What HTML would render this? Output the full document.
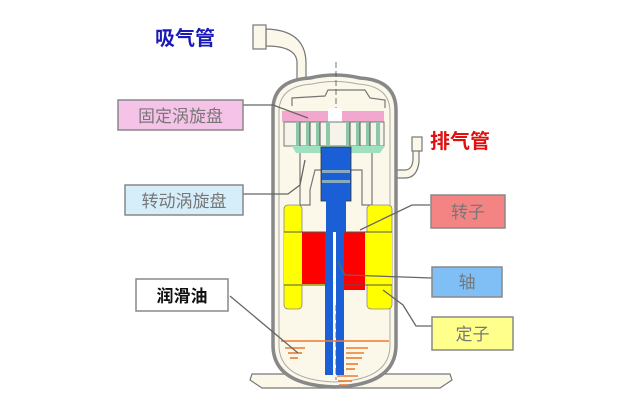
<!DOCTYPE html>
<html><head><meta charset="utf-8"><style>
body{margin:0;background:#fff;width:644px;height:408px;overflow:hidden}
svg{display:block}
text{font-family:"Liberation Sans","Noto Sans CJK SC",sans-serif}
</style></head><body>
<svg width="644" height="408" viewBox="0 0 644 408" xmlns="http://www.w3.org/2000/svg">
<!-- base plate -->
<path d="M252 374 L450 374 L452 380 L440 388 L262 388 L250 380 Z" fill="#fbf8ea" stroke="#777" stroke-width="1.2"/>
<!-- suction pipe -->
<path d="M266 29 Q305 30 306 62 L306 82 L297 82 L297 62 Q296 46 266 46 Z" fill="#fbf8ea" stroke="#777" stroke-width="1.2"/>
<rect x="253" y="25" width="13" height="24" fill="#fbf8ea" stroke="#777" stroke-width="1.2"/>
<!-- discharge pipe -->
<path d="M396 170 L405 170 Q412 170 413 160 L413 150 L419 150 L419 162 Q417 178 405 178 L396 178 Z" fill="#fbf8ea" stroke="#777" stroke-width="1.2"/>
<rect x="412" y="137" width="10" height="14" fill="#fbf8ea" stroke="#777" stroke-width="1.2"/>
<!-- shell -->
<path d="M273 110 Q273 80 310 78 Q335 72 360 78 Q396 80 396 110 L396 345 Q396 385 335 387 Q273 385 273 345 Z" fill="#fbf8ea" stroke="#888" stroke-width="3.5"/>
<path d="M279 112 Q279 86 312 84 Q335 79 358 84 Q390 86 390 112 L390 345 Q390 380 335 382 Q279 380 279 345 Z" fill="none" stroke="#aaa" stroke-width="1"/>
<!-- top parts -->
<path d="M292 106 L292 98 L325 96 L328 90 L365 90 L370 98 L385 100 L385 108" fill="none" stroke="#777" stroke-width="1.2"/>
<line x1="336" y1="62" x2="336" y2="380" stroke="#555" stroke-width="0.8" stroke-dasharray="6 3"/>
<!-- fixed scroll pink -->
<path d="M282 111 L384 111 L384 122 L282 122 Z" fill="#f2a7cf"/>
<rect x="328" y="108" width="14" height="14" fill="#fff"/>
<!-- fins -->
<rect x="284" y="122" width="100" height="24" fill="#f6f3ea" stroke="#777" stroke-width="1"/>
<g fill="#8cc7a8"><rect x="296" y="122" width="4" height="24"/><rect x="306" y="122" width="4" height="24"/><rect x="316" y="122" width="4" height="24"/><rect x="326" y="122" width="4" height="24"/><rect x="346" y="122" width="4" height="24"/><rect x="356" y="122" width="4" height="24"/><rect x="366" y="122" width="4" height="24"/><rect x="376" y="122" width="4" height="24"/></g>
<g stroke="#555" stroke-width="1"><line x1="300" y1="122" x2="300" y2="146"/><line x1="310" y1="122" x2="310" y2="146"/><line x1="320" y1="122" x2="320" y2="146"/><line x1="350" y1="122" x2="350" y2="146"/><line x1="360" y1="122" x2="360" y2="146"/><line x1="370" y1="122" x2="370" y2="146"/></g>
<!-- green plate -->
<path d="M292 146 L385 146 L380 153 L296 153 Z" fill="#9ee0c0"/>
<!-- frame -->
<path d="M300 153 L300 205 L310 205 L310 190 L315 170 L362 170 L362 205 L372 205 L372 153" fill="none" stroke="#777" stroke-width="1.2"/>
<!-- shaft upper -->
<rect x="321" y="147" width="30" height="54" fill="#1a5fd6" stroke="#333" stroke-width="0.8"/>
<rect x="322" y="170" width="28" height="3" fill="#8ab"/><rect x="322" y="180" width="28" height="3" fill="#8ab"/>
<rect x="326" y="200" width="20" height="32" fill="#1a5fd6"/>
<!-- stators yellow -->
<rect x="284" y="205" width="18" height="104" rx="4" fill="#ffff00" stroke="#888" stroke-width="0.8"/>
<rect x="367" y="205" width="25" height="104" rx="4" fill="#ffff00" stroke="#888" stroke-width="0.8"/>
<rect x="284" y="232" width="108" height="53" fill="#ffff00"/>
<!-- rotors -->
<rect x="302" y="232" width="23" height="52" fill="#ff0000"/>
<rect x="343" y="232" width="22" height="58" fill="#ff0000"/>
<line x1="284" y1="232" x2="392" y2="232" stroke="#555" stroke-width="1"/>
<line x1="284" y1="285" x2="392" y2="285" stroke="#555" stroke-width="1"/>
<!-- shaft strips -->
<rect x="325" y="232" width="8" height="143" fill="#1a5fd6"/>
<rect x="336" y="232" width="8" height="143" fill="#1a5fd6"/>
<rect x="333" y="232" width="3" height="70" fill="#fff"/>
<!-- oil -->
<g stroke="#f07a30" stroke-width="1.6">
<line x1="281" y1="341" x2="389" y2="341"/>
<line x1="285" y1="348" x2="305" y2="348"/><line x1="288" y1="353" x2="302" y2="353"/><line x1="290" y1="358" x2="298" y2="358"/>
<line x1="346" y1="348" x2="368" y2="348"/><line x1="346" y1="353" x2="364" y2="353"/><line x1="346" y1="358" x2="362" y2="358"/><line x1="346" y1="364" x2="358" y2="364"/><line x1="346" y1="369" x2="355" y2="369"/>
<line x1="337" y1="376" x2="358" y2="376"/><line x1="338" y1="381" x2="352" y2="381"/><line x1="339" y1="385" x2="348" y2="385"/>
</g>
<!-- leaders -->
<g stroke="#666" stroke-width="1.3" fill="none">
<path d="M243 105 L273 105 L308 118"/>
<path d="M243 194 L288 194 L300 185 L305 160"/>
<path d="M430 205 L412 205 L360 230"/>
<path d="M432 278 L345 275 L338 262"/>
<path d="M432 326 L416 326 L403 305 L383 290"/>
<path d="M230 296 L298 353"/>
</g>
<!-- labels -->
<text x="155" y="45" font-size="20" font-weight="bold" fill="#1a1ab8">吸气管</text>
<text x="430" y="148" font-size="20" font-weight="bold" fill="#e01010">排气管</text>
<rect x="118" y="100" width="125" height="30" fill="#f6c3e8" stroke="#888" stroke-width="1.5"/>
<text x="180.5" y="122" font-size="17" fill="#777" text-anchor="middle">固定涡旋盘</text>
<rect x="125" y="185" width="118" height="30" fill="#d6eefa" stroke="#888" stroke-width="1.5"/>
<text x="184" y="207" font-size="17" fill="#777" text-anchor="middle">转动涡旋盘</text>
<rect x="431" y="195" width="74" height="33" fill="#f48484" stroke="#888" stroke-width="1.5"/>
<text x="468" y="218" font-size="17" fill="#777" text-anchor="middle">转子</text>
<rect x="432" y="267" width="70" height="30" fill="#80bff5" stroke="#888" stroke-width="1.5"/>
<text x="467" y="288" font-size="17" fill="#777" text-anchor="middle">轴</text>
<rect x="432" y="317" width="81" height="33" fill="#ffff8c" stroke="#888" stroke-width="1.5"/>
<text x="472.5" y="340" font-size="17" fill="#777" text-anchor="middle">定子</text>
<rect x="136" y="279" width="92" height="32" fill="#fff" stroke="#888" stroke-width="1.5"/>
<text x="182" y="302" font-size="17" font-weight="bold" fill="#111" text-anchor="middle">润滑油</text>
</svg>
</body></html>
